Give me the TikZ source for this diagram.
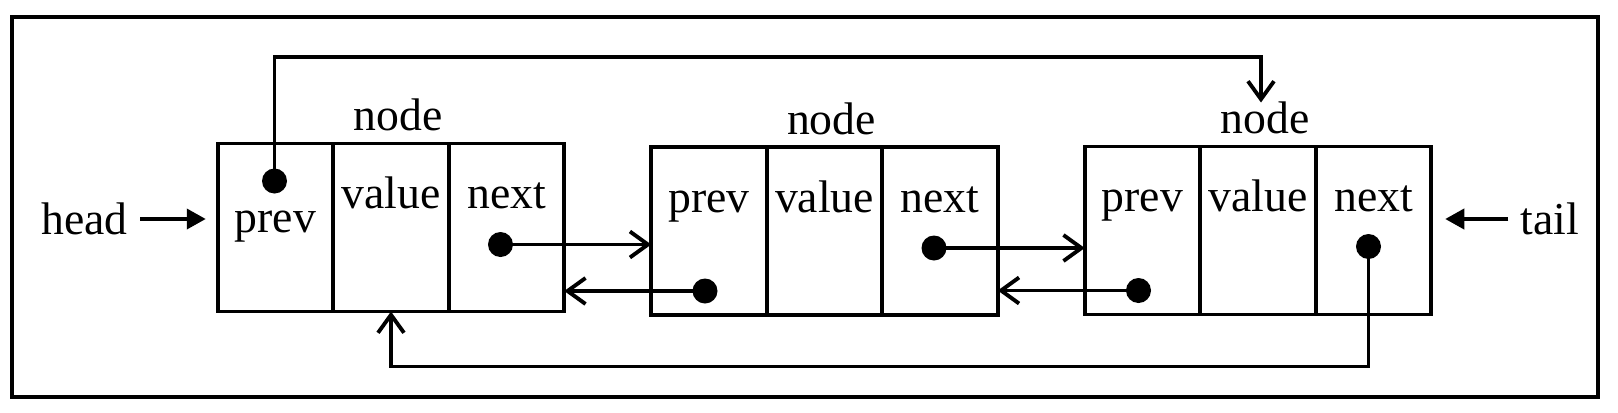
\documentclass[tikz,border=0pt]{standalone}
\usepackage{fontspec}
\setmainfont{Liberation Serif}
\usetikzlibrary{positioning, arrows.meta}

\begin{document}
\begin{tikzpicture}[font=\fontsize{13}{15}\selectfont,
      cell/.style ={draw, line width=1.1pt, outer sep=0pt, inner sep=0pt, minimum width=11.55mm, minimum height=16.8mm},
      field/.style={anchor=base, inner sep=0pt},
      dot/.style  ={circle, fill, inner sep=0pt, minimum size=2.5mm},
      link/.style ={line width=1.1pt, -{Straight Barb[length=1.8mm, width=2.6mm]}},
      ptr/.style  ={line width=1.1pt, -{Triangle[length=1.9mm, width=2mm]}}
    ]
    \useasboundingbox (0,0) rectangle (16.18,4.12);
    \draw[line width=0.9pt] (0.12,0.15) rectangle (15.98,3.95);

    % Drei Knoten: prev | value | next
    \node[cell] (p1) at (2.755,1.845) {};
    \node[cell, right=0pt of p1] (v1) {};
    \node[cell, right=0pt of v1] (n1) {};
    \node[cell] (p2) at (7.09,1.81) {};
    \node[cell, right=0pt of p2] (v2) {};
    \node[cell, right=0pt of v2] (n2) {};
    \node[cell] (p3) at (11.425,1.815) {};
    \node[cell, right=0pt of p3] (v3) {};
    \node[cell, right=0pt of v3] (n3) {};

    \node[field] at ([yshift=-8.9mm]p1.north) {prev};
    \node[field] at ([yshift=-6.5mm]v1.north) {value};
    \node[field] at ([yshift=-6.5mm]n1.north) {next};
    \node[field] at ([yshift=-6.5mm]p2.north) {prev};
    \node[field] at ([yshift=-6.5mm]v2.north) {value};
    \node[field] at ([yshift=-6.5mm]n2.north) {next};
    \node[field] at ([yshift=-6.5mm]p3.north) {prev};
    \node[field] at ([yshift=-6.5mm]v3.north) {value};
    \node[field] at ([yshift=-6.5mm]n3.north) {next};

    \node[field] (t1) at ([xshift=0.7mm, yshift=1.3mm]v1.north) {node};
    \node[field] (t2) at ([xshift=0.7mm, yshift=1.3mm]v2.north) {node};
    \node[field] (t3) at ([xshift=0.7mm, yshift=1.3mm]v3.north) {node};

    % Zeiger
    \node[dot] (d1p) at ([shift={(-0.01,0.465)}]p1.center) {};
    \node[dot] (d1n) at ([shift={(-0.06,-0.17)}]n1.center) {};
    \node[dot] (d2p) at ([shift={(-0.04,-0.6)}]p2.center) {};
    \node[dot] (d2n) at ([shift={(-0.06,-0.17)}]n2.center) {};
    \node[dot] (d3p) at ([shift={(-0.04,-0.6)}]p3.center) {};
    \node[dot] (d3n) at ([shift={(-0.05,-0.16)}]n3.center) {};

    \draw[link] (d1n.center) -- (d1n.center -| p2.west);
    \draw[link] (d2p.center) -- (d2p.center -| n1.east);
    \draw[link] (d2n.center) -- (d2n.center -| p3.west);
    \draw[link] (d3p.center) -- (d3p.center -| n2.east);

    % Ringschluss oben und unten
    \coordinate (in3) at ([shift={(0.03,0.44)}]v3.north);
    \draw[link] (d1p.center) -- ++(0,1.24) -| (in3);
    \draw[link] (d3n.center) -- ++(0,-1.2) -| (v1.south);

    \node (head) at (0.846,1.93) {head};
    \node (tail) at (15.50,1.93) {tail};
    \draw[ptr, shorten >=1.2mm] (head.east) -- (head.east -| p1.west);
    \draw[ptr, shorten >=1.4mm] (tail.west) -- (tail.west -| n3.east);
  \end{tikzpicture}
\end{document}
